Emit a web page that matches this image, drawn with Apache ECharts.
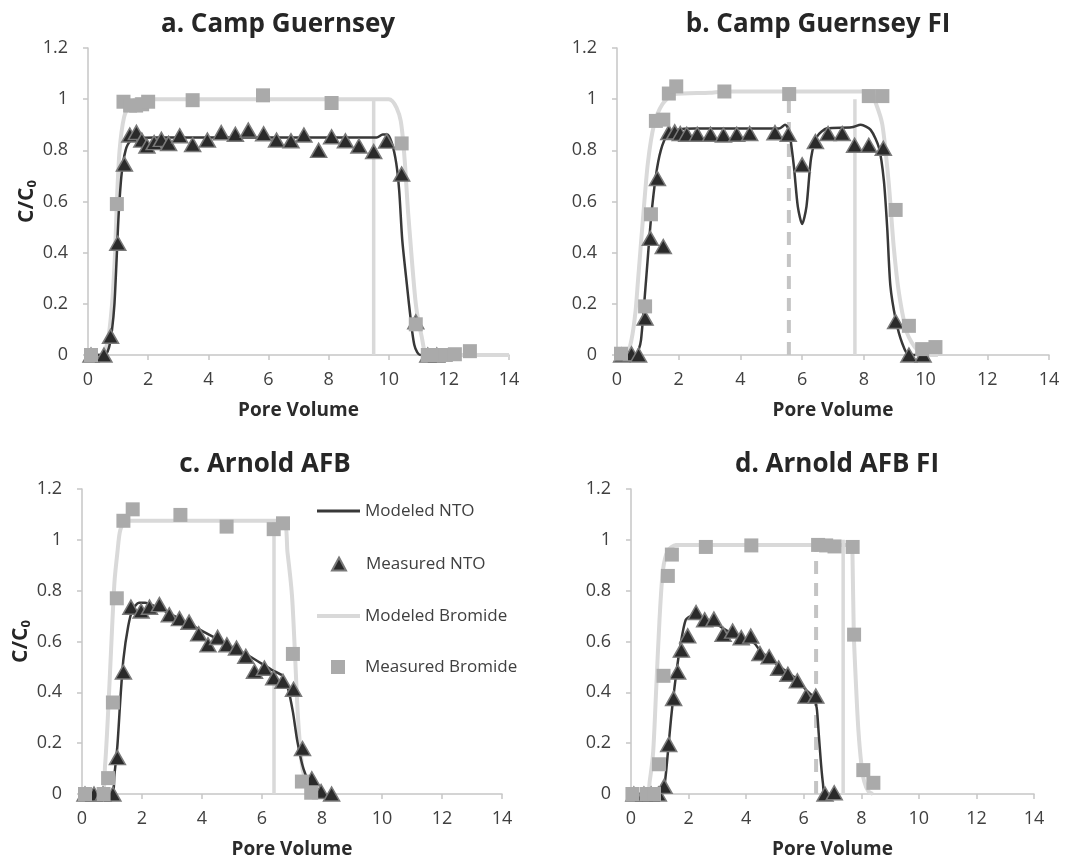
<!DOCTYPE html>
<html><head><meta charset="utf-8">
<script src="https://cdn.jsdelivr.net/npm/echarts@6/dist/echarts.min.js"></script>
<style>html,body{margin:0;padding:0;background:#fff}#c{width:1073px;height:860px}</style>
</head><body><div id="c"></div>
<script>
// ---------- Data ----------
const panelTitles = ['a. Camp Guernsey', 'b. Camp Guernsey FI', 'c. Arnold AFB', 'd. Arnold AFB FI'];
const xTicks = [0, 2, 4, 6, 8, 10, 12, 14];
const yTicks = [0, 0.2, 0.4, 0.6, 0.8, 1, 1.2];

// Panel a
const aModeledNTO = [[0,0],[0.55,0],[0.7,0.03],[0.8,0.1],[0.88,0.2],[0.95,0.37],[1.02,0.55],[1.12,0.71],[1.25,0.8],[1.4,0.835],[1.7,0.848],[2.2,0.85],[9.6,0.85],[9.8,0.862],[9.95,0.862],[10.1,0.83],[10.25,0.75],[10.35,0.64],[10.45,0.45],[10.6,0.28],[10.75,0.12],[10.85,0.04],[10.95,0.01],[11.05,0],[11.2,0]];
const aMeasuredNTO = [[0.1,0],[0.53,0],[0.75,0.073],[0.99,0.437],[1.21,0.746],[1.39,0.86],[1.61,0.87],[1.79,0.84],[1.96,0.817],[2.2,0.83],[2.44,0.843],[2.68,0.827],[3.05,0.857],[3.48,0.823],[3.97,0.84],[4.43,0.869],[4.9,0.863],[5.33,0.879],[5.84,0.865],[6.27,0.84],[6.75,0.837],[7.18,0.86],[7.67,0.8],[8.1,0.853],[8.56,0.837],[9.01,0.817],[9.5,0.795],[9.93,0.836],[10.43,0.707],[10.9,0.13],[11.3,0],[11.6,0]];
const aModeledBromide = [[0,0],[0.45,0],[0.65,0.05],[0.8,0.2],[0.9,0.4],[0.96,0.6],[1.05,0.8],[1.2,0.93],[1.4,0.98],[1.6,1.0],[10.0,1.0],[10.4,0.915],[10.65,0.55],[10.9,0.2],[11.1,0.07],[11.3,0],[14,0]];
const aMeasuredBromide = [[0.1,0],[0.96,0.59],[1.18,0.99],[1.4,0.975],[1.6,0.975],[1.8,0.98],[2.0,0.99],[3.48,0.996],[5.82,1.015],[8.1,0.985],[10.43,0.827],[10.9,0.12],[11.3,0],[11.6,0],[11.9,0],[12.2,0.003],[12.7,0.015]];
const aStopLine = [[9.5,0],[9.5,1.0]];

// Panel b
const bModeledNTO = [[0,0],[0.6,0],[0.7,0.02],[0.78,0.06],[0.94,0.29],[1.1,0.53],[1.26,0.7],[1.42,0.8],[1.63,0.86],[1.95,0.88],[2.5,0.885],[5.25,0.885],[5.45,0.9],[5.57,0.88],[5.73,0.74],[5.86,0.58],[6.0,0.512],[6.14,0.58],[6.29,0.77],[6.49,0.855],[6.81,0.886],[7.6,0.89],[7.9,0.9],[8.22,0.88],[8.49,0.81],[8.65,0.68],[8.76,0.49],[8.86,0.27],[9.03,0.14],[9.24,0.047],[9.46,0],[9.9,0]];
const bMeasuredNTO = [[0.15,0],[0.47,0.005],[0.7,0],[0.91,0.144],[1.08,0.456],[1.31,0.69],[1.5,0.424],[1.68,0.87],[1.87,0.872],[2.05,0.866],[2.26,0.863],[2.6,0.863],[3.03,0.863],[3.45,0.86],[3.88,0.863],[4.3,0.866],[5.12,0.869],[5.55,0.863],[6.0,0.743],[6.43,0.834],[6.84,0.866],[7.3,0.866],[7.7,0.82],[8.16,0.82],[8.63,0.808],[9.03,0.131],[9.46,0],[9.92,0]];
const bModeledBromide = [[0,0],[0.3,0],[0.47,0.06],[0.6,0.17],[0.68,0.29],[0.84,0.53],[1.0,0.75],[1.2,0.9],[1.47,0.98],[1.84,1.02],[3,1.025],[3.5,1.03],[8.2,1.03],[8.4,0.98],[8.6,0.9],[8.8,0.68],[8.97,0.42],[9.14,0.24],[9.4,0.086],[9.73,0.02],[10.16,0],[10.4,0]];
const bMeasuredBromide = [[0.13,0.005],[0.91,0.19],[1.1,0.55],[1.26,0.915],[1.5,0.92],[1.68,1.022],[1.92,1.05],[3.48,1.03],[5.58,1.02],[8.16,1.012],[8.6,1.012],[9.03,0.567],[9.46,0.114],[9.89,0.023],[10.32,0.031]];
const bInterruptLine = [[5.57,0],[5.57,1.0]];
const bStopLine = [[7.71,0],[7.71,1.0]];

// Panel c
const cModeledNTO = [[0,0],[1.0,0],[1.08,0.075],[1.18,0.19],[1.28,0.375],[1.38,0.53],[1.54,0.66],[1.69,0.726],[1.9,0.752],[2.1,0.752],[2.4,0.74],[3.0,0.705],[3.59,0.668],[4.5,0.61],[5.54,0.545],[6.36,0.486],[6.67,0.466],[6.87,0.414],[7.03,0.323],[7.18,0.206],[7.38,0.1],[7.69,0.023],[8.0,0]];
const cMeasuredNTO = [[0.1,0],[0.4,0],[0.7,0],[1.03,0],[1.18,0.143],[1.38,0.48],[1.63,0.735],[1.97,0.72],[2.25,0.735],[2.58,0.745],[2.91,0.705],[3.25,0.69],[3.57,0.676],[3.89,0.63],[4.2,0.587],[4.52,0.616],[4.83,0.587],[5.15,0.574],[5.46,0.542],[5.75,0.483],[6.08,0.495],[6.39,0.457],[6.7,0.443],[7.05,0.412],[7.35,0.179],[7.66,0.06],[7.97,0.01],[8.32,0]];
const cModeledBromide = [[0,0],[0.65,0],[0.77,0.115],[0.87,0.32],[0.97,0.57],[1.08,0.83],[1.18,0.95],[1.28,1.04],[1.49,1.075],[6.7,1.075],[6.85,0.95],[7.0,0.78],[7.1,0.55],[7.2,0.3],[7.35,0.1],[7.6,0.01],[7.8,0]];
const cMeasuredBromide = [[0.1,0],[0.72,0],[0.87,0.0625],[1.03,0.36],[1.16,0.77],[1.38,1.075],[1.69,1.12],[3.28,1.098],[4.82,1.052],[6.39,1.042],[6.7,1.065],[7.03,0.551],[7.33,0.049],[7.64,0.005]];
const cStopLine = [[6.4,0],[6.4,1.075]];

// Panel d
const dModeledNTO = [[0,0],[1.05,0],[1.13,0.01],[1.22,0.088],[1.39,0.296],[1.56,0.464],[1.73,0.594],[1.9,0.685],[2.07,0.698],[2.35,0.698],[2.9,0.672],[3.48,0.633],[4.27,0.594],[4.5,0.562],[5.15,0.503],[5.77,0.451],[6.06,0.412],[6.34,0.38],[6.45,0.34],[6.52,0.24],[6.6,0.12],[6.67,0.04],[6.73,0],[7.1,0]];
const dMeasuredNTO = [[0.1,0],[0.45,0],[0.7,0],[0.95,0],[1.15,0.03],[1.31,0.195],[1.48,0.376],[1.62,0.48],[1.75,0.566],[1.97,0.622],[2.26,0.714],[2.56,0.685],[2.88,0.688],[3.2,0.628],[3.53,0.641],[3.83,0.615],[4.16,0.621],[4.48,0.553],[4.8,0.54],[5.13,0.495],[5.45,0.471],[5.78,0.445],[6.08,0.385],[6.42,0.385],[6.74,0],[7.06,0.005]];
const dModeledBromide = [[0,0],[0.56,0],[0.65,0.05],[0.77,0.166],[0.88,0.425],[0.99,0.685],[1.11,0.88],[1.28,0.957],[1.56,0.98],[7.66,0.98],[7.7,0.9],[7.74,0.63],[7.82,0.42],[7.9,0.25],[8.0,0.12],[8.1,0.05],[8.25,0.01],[8.4,0]];
const dMeasuredBromide = [[0.05,0],[0.55,0],[0.8,0],[0.97,0.117],[1.13,0.465],[1.28,0.858],[1.42,0.942],[2.6,0.972],[4.18,0.978],[6.5,0.98],[6.78,0.978],[7.07,0.974],[7.7,0.972],[7.75,0.627],[8.07,0.094],[8.42,0.044]];
const dInterruptLine = [[6.43,0],[6.43,0.98]];
const dStopLine = [[7.37,0],[7.37,1.0]];

const legendNames = ['Modeled NTO', 'Measured NTO', 'Modeled Bromide', 'Measured Bromide'];

// ---------- Styling / layout ----------
const F = '"Open Sans", "DejaVu Sans", sans-serif';
const AX = '#c6c6c6';
const NTO_LINE = '#383838';
const BR_LINE = '#d9d9d9';
const grids = [
  {left: 88, top: 48, width: 421, height: 307},
  {left: 617, top: 48, width: 432, height: 307},
  {left: 82, top: 489, width: 420, height: 308},
  {left: 631, top: 489, width: 403, height: 308}
];
const titlePos = [[278, 12], [818, 12], [265, 452], [837, 452]];

const panels = [
  {nto: aModeledNTO, mnto: aMeasuredNTO, br: aModeledBromide, mbr: aMeasuredBromide, stop: aStopLine, intr: null},
  {nto: bModeledNTO, mnto: bMeasuredNTO, br: bModeledBromide, mbr: bMeasuredBromide, stop: bStopLine, intr: bInterruptLine},
  {nto: cModeledNTO, mnto: cMeasuredNTO, br: cModeledBromide, mbr: cMeasuredBromide, stop: cStopLine, intr: null},
  {nto: dModeledNTO, mnto: dMeasuredNTO, br: dModeledBromide, mbr: dMeasuredBromide, stop: dStopLine, intr: dInterruptLine}
];

const xAxes = grids.map((g, i) => ({
  gridIndex: i, type: 'value', min: xTicks[0], max: xTicks[xTicks.length - 1], interval: xTicks[1] - xTicks[0],
  name: 'Pore Volume', nameLocation: 'middle', nameGap: 46,
  nameTextStyle: {fontFamily: F, fontWeight: 'bold', fontSize: 19, color: '#2b2b2b'},
  axisLine: {show: true, lineStyle: {color: AX, width: 1.5}},
  axisTick: {show: true, length: 5, lineStyle: {color: AX, width: 1.5}},
  axisLabel: {fontFamily: F, fontSize: 18, color: '#404040', margin: 16},
  splitLine: {show: false}
}));

const yAxes = grids.map((g, i) => ({
  gridIndex: i, type: 'value', min: yTicks[0], max: yTicks[yTicks.length - 1], interval: 0.2,
  name: (i === 0 || i === 2) ? '{a|C/C}{b|0}' : '',
  nameLocation: 'middle', nameRotate: 90, nameGap: 38,
  nameTextStyle: {rich: {
    a: {fontFamily: F, fontWeight: 'bold', fontSize: 21, color: '#262626'},
    b: {fontFamily: F, fontWeight: 'bold', fontSize: 13, color: '#262626', padding: [10, 0, 0, 0]}
  }},
  axisLine: {show: true, lineStyle: {color: AX, width: 1.5}},
  axisTick: {show: true, length: 5, lineStyle: {color: AX, width: 1.5}},
  axisLabel: {fontFamily: F, fontSize: 18, color: '#404040', margin: 20,
    formatter: v => String(Math.round(v * 10) / 10)},
  splitLine: {show: false}
}));

const series = [];
panels.forEach((p, i) => {
  series.push({type: 'line', xAxisIndex: i, yAxisIndex: i, data: p.stop, symbol: 'none', silent: true, z: 1,
    lineStyle: {color: BR_LINE, width: 3.5}});
  if (p.intr) series.push({type: 'line', xAxisIndex: i, yAxisIndex: i, data: p.intr, symbol: 'none', silent: true, z: 1,
    lineStyle: {color: '#c4c4c4', width: 4, type: [13, 9]}});
  series.push({name: 'Modeled Bromide', type: 'line', xAxisIndex: i, yAxisIndex: i, data: p.br, symbol: 'none', showSymbol: false,
    smooth: 0.25, z: 2, lineStyle: {color: BR_LINE, width: 4}, itemStyle: {color: BR_LINE}});
  series.push({name: 'Modeled NTO', type: 'line', xAxisIndex: i, yAxisIndex: i, data: p.nto, symbol: 'none', showSymbol: false,
    smooth: 0.25, z: 3, lineStyle: {color: NTO_LINE, width: 2.5}, itemStyle: {color: NTO_LINE}});
  series.push({name: 'Measured NTO', type: 'scatter', xAxisIndex: i, yAxisIndex: i, data: p.mnto, symbol: 'triangle', symbolSize: [16, 14], z: 4,
    itemStyle: {color: '#2a2a2a', borderColor: '#7a7a7a', borderWidth: 1.5, opacity: 1}});
  series.push({name: 'Measured Bromide', type: 'scatter', xAxisIndex: i, yAxisIndex: i, data: p.mbr, symbol: 'rect', symbolSize: 14, z: 5,
    itemStyle: {color: '#aaaaaa', opacity: 1}});
});

const legendRows = [501, 554, 606, 657];
const legendIcons = [
  {icon: 'rect', w: 43, h: 3, left: 317, pad: 0, color: NTO_LINE},
  {icon: 'triangle', w: 14, h: 13, left: 331, pad: 15, color: null},
  {icon: 'rect', w: 43, h: 4, left: 317, pad: 0, color: BR_LINE},
  {icon: 'rect', w: 14, h: 14, left: 331, pad: 15, color: null}
];
const legends = legendNames.map((n, k) => {
  const s = legendIcons[k];
  const item = {name: n, icon: s.icon};
  if (s.color) item.itemStyle = {color: s.color, borderWidth: 0};
  return {
    data: [item], orient: 'vertical', left: s.left, top: legendRows[k], padding: 0,
    itemWidth: s.w, itemHeight: s.h, selectedMode: false,
    textStyle: {fontFamily: F, fontSize: 17, color: '#404040', padding: [0, 0, 0, s.pad], lineHeight: 20}
  };
});

const titles = panelTitles.map((t, i) => ({
  text: t, left: titlePos[i][0], top: titlePos[i][1], textAlign: 'center', padding: 0,
  textStyle: {fontFamily: F, fontWeight: 'bold', fontSize: 26, color: '#262626'}
}));

const chart = echarts.init(document.getElementById('c'), null, {renderer: 'canvas'});
chart.setOption({
  animation: false, backgroundColor: '#fff',
  title: titles, legend: legends, grid: grids,
  xAxis: xAxes, yAxis: yAxes, series: series
});
</script></body></html>
